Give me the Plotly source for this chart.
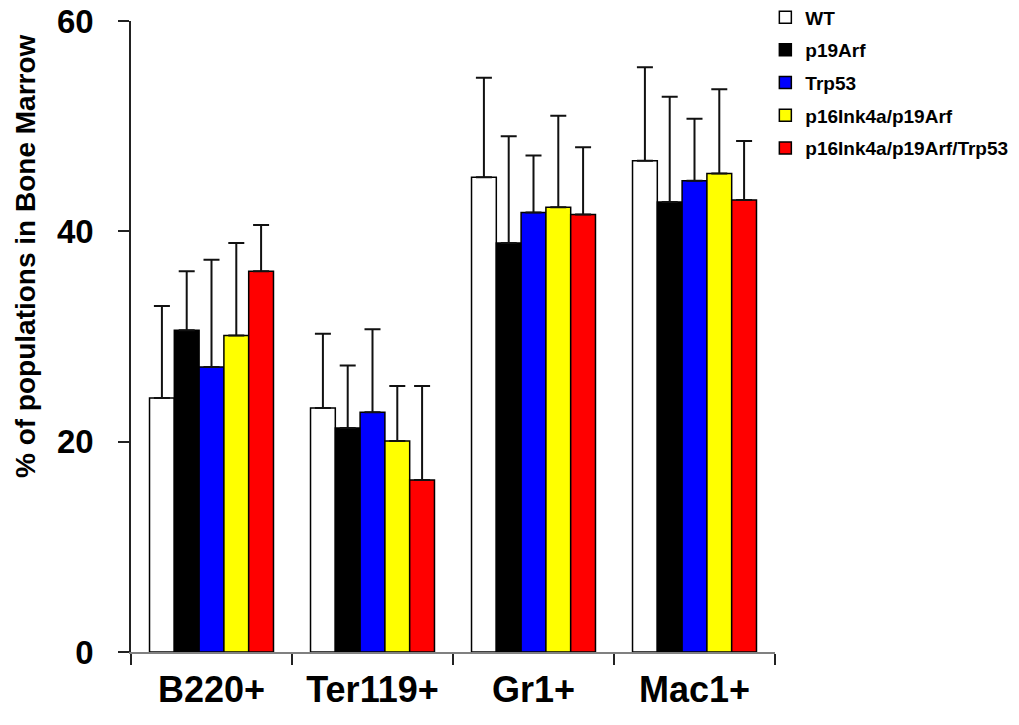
import plotly.graph_objects as go

categories = ["B220+", "Ter119+", "Gr1+", "Mac1+"]
series_names = ["WT", "p19Arf", "Trp53", "p16Ink4a/p19Arf", "p16Ink4a/p19Arf/Trp53"]
series_colors = ["#FFFFFF", "#000000", "#0000FF", "#FFFF00", "#FF0000"]

wt = [24.15, 23.2, 45.15, 46.7]
wt_err = [8.75, 7.06, 9.45, 8.9]
p19arf = [30.6, 21.3, 38.9, 42.8]
p19arf_err = [5.6, 5.95, 10.15, 10.0]
trp53 = [27.1, 22.8, 41.8, 44.8]
trp53_err = [10.2, 7.9, 5.4, 5.9]
p16_p19 = [30.1, 20.06, 42.3, 45.5]
p16_p19_err = [8.8, 5.24, 8.7, 8.0]
p16_p19_trp53 = [36.2, 16.35, 41.6, 42.97]
p16_p19_trp53_err = [4.4, 8.95, 6.4, 5.63]

values = [wt, p19arf, trp53, p16_p19, p16_p19_trp53]
errors = [wt_err, p19arf_err, trp53_err, p16_p19_err, p16_p19_trp53_err]

y_ticks = [0, 20, 40, 60]
y_title = "% of populations in Bone Marrow"

FONT = "Liberation Sans, Arial, sans-serif"

fig = go.Figure()
for name, color, vals, errs in zip(series_names, series_colors, values, errors):
    fig.add_trace(go.Bar(
        name=name,
        x=categories,
        y=vals,
        marker=dict(color=color, line=dict(color="#000000", width=1.5)),
        error_y=dict(type="data", array=errs, arrayminus=[0] * len(errs),
                     symmetric=False, color="#111111", thickness=2, width=8),
        legendgroup=name,
    ))

# page body has an 8px default margin, so the figure is sized/offset to compensate
fig.update_layout(
    width=1011, height=717,
    paper_bgcolor="white", plot_bgcolor="white",
    margin=dict(l=123, r=244, t=13, b=73, autoexpand=False),
    barmode="group", bargap=0.23, bargroupgap=0,
    font=dict(family=FONT, color="black"),
    showlegend=True,
    legend=dict(x=0.985, y=1.036, xanchor="left", yanchor="top",
                font=dict(family=FONT, size=19, weight="bold", color="black"),
                tracegroupgap=5, itemwidth=30, bgcolor="rgba(0,0,0,0)"),
    xaxis=dict(
        type="category", showgrid=False, zeroline=False, automargin=False,
        showline=True, linecolor="#808080", linewidth=2,
        ticks="outside", tickson="boundaries", ticklen=11, tickwidth=1.5, tickcolor="#222",
        tickfont=dict(family=FONT, size=36, weight="bold", color="black"),
        ticklabelstandoff=5,
    ),
    yaxis=dict(
        range=[0, 60], tickvals=y_ticks, showgrid=False, zeroline=False, automargin=False,
        showline=True, linecolor="#222", linewidth=1.5,
        ticks="outside", ticklen=11, tickwidth=1.5, tickcolor="#222",
        tickfont=dict(family=FONT, size=33, weight="bold", color="black"),
        ticklabelstandoff=18, ticklabeloverflow="allow",
    ),
    annotations=[dict(
        text=y_title, xref="paper", yref="paper", x=-0.163, y=0.6276,
        textangle=-90, showarrow=False, xanchor="center", yanchor="middle",
        font=dict(family=FONT, size=28, weight="bold", color="black"),
    )],
)

fig.write_html("out.html")
